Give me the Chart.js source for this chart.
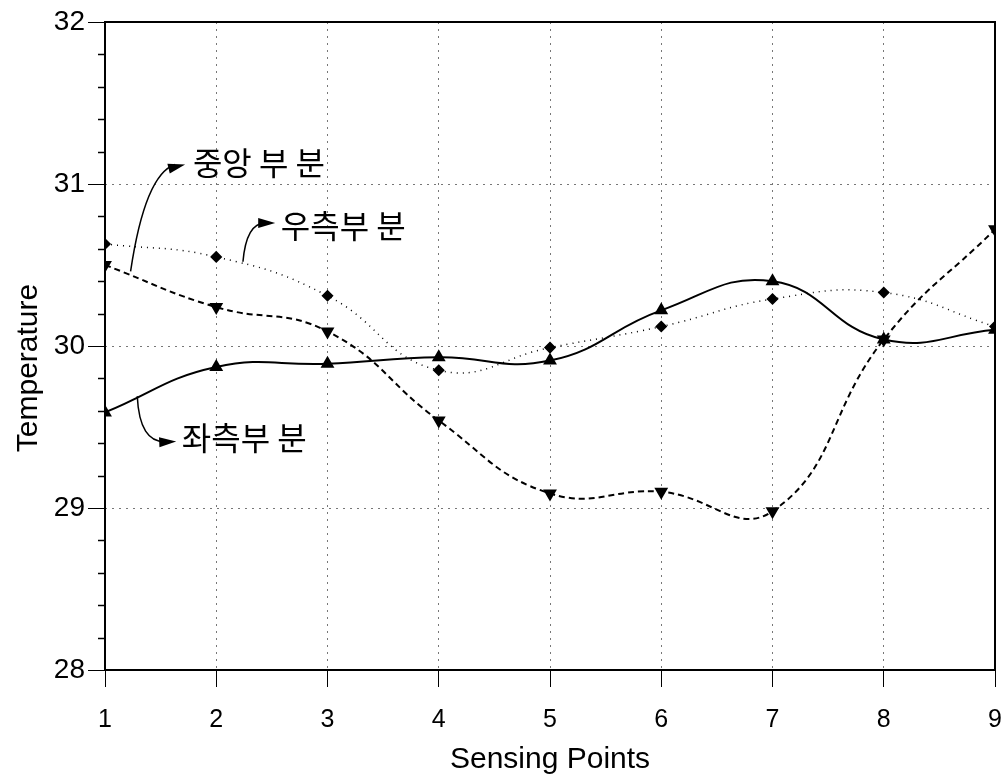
<!DOCTYPE html>
<html>
<head>
<meta charset="utf-8">
<script src="https://cdn.jsdelivr.net/npm/chart.js@4.4.1/dist/chart.umd.min.js"></script>
<style>
  html, body { margin: 0; padding: 0; background: #fff; }
  #wrap { width: 1003px; height: 784px; }
</style>
</head>
<body>
<div id="wrap"><canvas id="tempChart" width="1003" height="784"></canvas></div>
<script>
// données
const sensingPoints = [1, 2, 3, 4, 5, 6, 7, 8, 9];
const leftPart = [29.59, 29.87, 29.89, 29.93, 29.91, 30.22, 30.40, 30.04, 30.10];
const centerPart = [30.50, 30.24, 30.09, 29.54, 29.09, 29.10, 28.98, 30.04, 30.72];
const rightPart = [30.63, 30.55, 30.31, 29.85, 29.99, 30.12, 30.29, 30.33, 30.12];
const yTicks = [28, 29, 30, 31, 32];
const seriesNames = ["중앙 부 분", "우측부 분", "좌측부 분"];
const yTitle = "Temperature";
const xTitle = "Sensing Points";

const axisFont = "'Liberation Sans', Arial, sans-serif";
const koreanFont = "'Noto Sans CJK KR', sans-serif";

function toPoints(values) {
  return sensingPoints.map((x, i) => ({ x: x, y: values[i] }));
}

// libellés avec flèches courbes (coordonnées en unités des axes)
const callouts = [
  { text: seriesNames[0], from: [1.23, 30.46], ctrl: [1.36, 31.06], tip: [1.72, 31.12], label: [1.79, 31.13] },
  { text: seriesNames[1], from: [2.24, 30.52], ctrl: [2.27, 30.76], tip: [2.53, 30.76], label: [2.58, 30.74] },
  { text: seriesNames[2], from: [1.29, 29.69], ctrl: [1.31, 29.40], tip: [1.64, 29.41], label: [1.69, 29.43] },
];

const framePlugin = {
  id: "frame",
  afterDatasetsDraw(chart) {
    const { ctx, chartArea: a, scales } = chart;
    ctx.save();
    ctx.strokeStyle = "#000";
    ctx.lineWidth = 2;
    ctx.strokeRect(a.left, a.top, a.right - a.left, a.bottom - a.top);

    // petites graduations sur l'axe y
    ctx.lineWidth = 1.5;
    for (let v = 28.2; v < 32; v += 0.2) {
      if (Math.abs(v - Math.round(v)) < 0.01) continue;
      const py = Math.round(scales.y.getPixelForValue(v)) + 0.5;
      ctx.beginPath();
      ctx.moveTo(a.left, py);
      ctx.lineTo(a.left - 7, py);
      ctx.stroke();
    }

    // titre de l'axe y
    ctx.save();
    ctx.translate(29, 368);
    ctx.rotate(-Math.PI / 2);
    ctx.font = "30px " + axisFont;
    ctx.fillStyle = "#000";
    ctx.textAlign = "center";
    ctx.textBaseline = "middle";
    ctx.fillText(yTitle, 0, 0);
    ctx.restore();

    // flèches et textes
    callouts.forEach((c) => {
      const px = (p) => [scales.x.getPixelForValue(p[0]), scales.y.getPixelForValue(p[1])];
      const f = px(c.from), k = px(c.ctrl), t = px(c.tip), l = px(c.label);
      ctx.lineWidth = 1.5;
      ctx.beginPath();
      ctx.moveTo(f[0], f[1]);
      ctx.quadraticCurveTo(k[0], k[1], t[0] - 10, t[1]);
      ctx.stroke();
      const ang = Math.atan2(t[1] - k[1], t[0] - k[0]);
      ctx.beginPath();
      ctx.moveTo(t[0], t[1]);
      ctx.lineTo(t[0] - 17 * Math.cos(ang) + 5 * Math.sin(ang), t[1] - 17 * Math.sin(ang) - 5 * Math.cos(ang));
      ctx.lineTo(t[0] - 17 * Math.cos(ang) - 5 * Math.sin(ang), t[1] - 17 * Math.sin(ang) + 5 * Math.cos(ang));
      ctx.closePath();
      ctx.fillStyle = "#000";
      ctx.fill();
      ctx.font = "32px " + koreanFont;
      ctx.textBaseline = "middle";
      ctx.textAlign = "left";
      ctx.fillText(c.text, l[0], l[1]);
    });
    ctx.restore();
  },
};

const ctx = document.getElementById("tempChart").getContext("2d");
const myChart = new Chart(ctx, {
  type: "line",
  data: {
    datasets: [
      {
        label: seriesNames[2],
        data: toPoints(leftPart),
        borderColor: "#000",
        backgroundColor: "#000",
        borderWidth: 2,
        tension: 0.45,
        pointStyle: "triangle",
        pointRadius: 6,
      },
      {
        label: seriesNames[0],
        data: toPoints(centerPart),
        borderColor: "#000",
        backgroundColor: "#000",
        borderWidth: 2,
        borderDash: [6, 4],
        tension: 0.45,
        pointStyle: "triangle",
        pointRotation: 180,
        pointRadius: 6,
      },
      {
        label: seriesNames[1],
        data: toPoints(rightPart),
        borderColor: "#000",
        backgroundColor: "#000",
        borderWidth: 1.5,
        borderDash: [1, 5],
        tension: 0.45,
        pointStyle: "rectRot",
        pointRadius: 5,
      },
    ],
  },
  options: {
    responsive: false,
    animation: false,
    layout: { padding: { top: 22, right: 6, left: 0, bottom: 0 } },
    plugins: {
      legend: { display: false },
      tooltip: { enabled: false },
    },
    scales: {
      x: {
        type: "linear",
        min: 1,
        max: 9,
        afterBuildTicks: (scale) => {
          scale.ticks = sensingPoints.map((v) => ({ value: v }));
        },
        afterFit: (scale) => {
          scale.height = 114;
          scale.paddingRight = 0;
          scale.paddingLeft = 0;
        },
        ticks: {
          color: "#000",
          font: { family: axisFont, size: 25 },
          padding: 18,
          maxRotation: 0,
        },
        grid: {
          color: (c) => (c.tick && (c.tick.value === 1 || c.tick.value === 9) ? "rgba(0,0,0,0)" : "#777"),
          lineWidth: 1,
          tickColor: "#000",
          tickLength: 17,
        },
        border: { display: false, dash: [2, 5] },
        title: {
          display: true,
          text: xTitle,
          color: "#000",
          font: { family: axisFont, size: 30 },
          padding: { top: 0, bottom: 6 },
        },
      },
      y: {
        min: 28,
        max: 32,
        afterBuildTicks: (scale) => {
          scale.ticks = yTicks.map((v) => ({ value: v }));
        },
        afterFit: (scale) => {
          scale.width = 105;
          scale.paddingTop = 0;
          scale.paddingBottom = 0;
        },
        ticks: {
          color: "#000",
          font: { family: axisFont, size: 28 },
          padding: 3,
        },
        grid: {
          color: (c) => (c.tick && (c.tick.value === 28 || c.tick.value === 32) ? "rgba(0,0,0,0)" : "#777"),
          lineWidth: 1,
          tickColor: "#000",
          tickLength: 17,
        },
        border: { display: false, dash: [2, 5] },
        title: { display: false },
      },
    },
  },
  plugins: [framePlugin],
});
</script>
</body>
</html>
